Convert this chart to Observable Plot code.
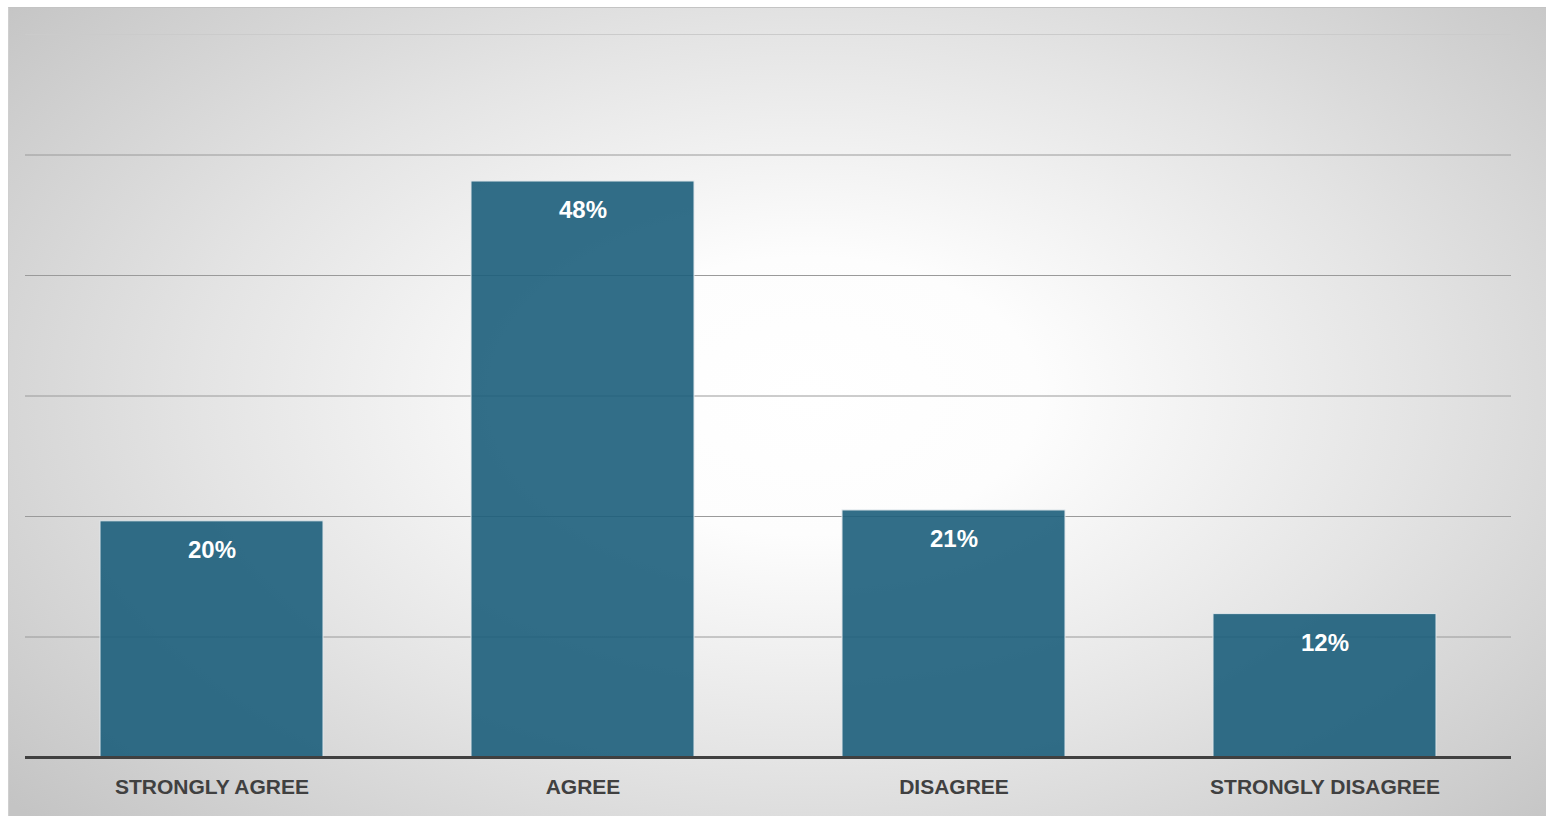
<!DOCTYPE html>
<html>
<head>
<meta charset="utf-8">
<script src="https://cdn.jsdelivr.net/npm/d3@7"></script>
<script src="https://cdn.jsdelivr.net/npm/@observablehq/plot@0.6"></script>
<style>
  html, body { margin: 0; padding: 0; background: #ffffff; width: 1546px; height: 816px; overflow: hidden; }
  #bg { position: absolute; left: 8px; top: 7px; width: 1538px; height: 809px;
        background: radial-gradient(ellipse 68% 78% at 52% 48%, #ffffff 0%, #fdfdfd 22%, #e4e4e4 58%, #c4c4c4 100%);
        border-top: 1px solid #c4c4c4; border-left: 1px solid #cfcfcf; box-sizing: border-box; }
  #chart { position: absolute; left: 0; top: 0; }
  #chart svg { background: transparent; }
</style>
</head>
<body>
<div id="bg"></div>
<div id="chart"></div>
<script>
const categories = ["STRONGLY AGREE", "AGREE", "DISAGREE", "STRONGLY DISAGREE"];
const values = [19.6, 47.8, 20.5, 11.9];
const valueLabels = ["20%", "48%", "21%", "12%"];
const gridTicks = [10, 20, 30, 40, 50];
const topTick = [60];

const data = categories.map((c, i) => ({category: c, value: values[i], label: valueLabels[i]}));

const chart = Plot.plot({
  width: 1546,
  height: 816,
  marginLeft: 25,
  marginRight: 35,
  marginTop: 34,
  marginBottom: 59,
  style: {background: "transparent", fontFamily: "'Liberation Sans', Arial, sans-serif"},
  x: {domain: categories, paddingInner: 0.4, paddingOuter: 0.2, axis: null},
  y: {domain: [0, 60], axis: null},
  marks: [
    Plot.ruleY(topTick, {stroke: "#cbcbcb", strokeWidth: 1}),
    Plot.ruleY(gridTicks, {stroke: "#9a9a9a", strokeWidth: 1}),
    Plot.barY(data, {x: "category", y: "value", fill: "rgb(28,94,123)", fillOpacity: 0.9, stroke: "#dfe6ea", strokeWidth: 1}),
    Plot.ruleY([0], {stroke: "#404040", strokeWidth: 3}),
    Plot.text(data, {x: "category", y: "value", text: "label", dy: 29, fill: "#ffffff", fontSize: 24, fontWeight: "bold"}),
    Plot.text(data, {x: "category", y: 0, text: "category", dy: 30, fill: "#404040", fontSize: 21, fontWeight: "bold"})
  ]
});
document.getElementById("chart").appendChild(chart);
</script>
</body>
</html>
